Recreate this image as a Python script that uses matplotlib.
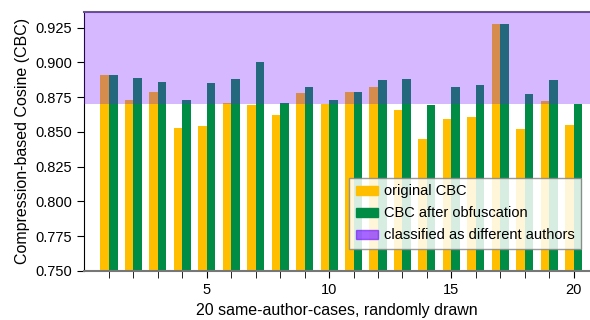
import numpy as np
import matplotlib
matplotlib.use("Agg")
import matplotlib.pyplot as plt
from matplotlib.patches import Patch

plt.rcParams['font.family'] = ['Liberation Sans', 'DejaVu Sans']

# valeurs
cases = np.arange(1, 21)
original_cbc = [0.891, 0.873, 0.879, 0.853, 0.854, 0.871, 0.869, 0.862, 0.878, 0.870,
                0.879, 0.882, 0.866, 0.845, 0.859, 0.861, 0.928, 0.852, 0.872, 0.855]
obfuscated_cbc = [0.891, 0.889, 0.886, 0.873, 0.885, 0.888, 0.900, 0.871, 0.882, 0.873,
                  0.879, 0.887, 0.888, 0.869, 0.882, 0.884, 0.928, 0.877, 0.887, 0.870]
threshold = 0.870

orange = '#FFBF00'
green = '#008C45'
purple = (117/255, 22/255, 1.0)

fig = plt.figure(figsize=(5.9, 3.2), dpi=100)
ax = fig.add_axes([0.1424, 0.154, 0.8576, 0.8094])

w = 0.35
ax.bar(cases - w, original_cbc, width=w, align='edge', color=orange, zorder=2)
ax.bar(cases, obfuscated_cbc, width=w, align='edge', color=green, zorder=2)

ax.set_ylim(0.75, 0.9365)
ax.set_xlim(-0.02, 20.67)
# zone "auteurs différents" au-dessus du seuil
ax.axhspan(threshold, 0.9365, color=purple, alpha=0.3, lw=0, zorder=3)

ax.set_yticks(np.arange(0.75, 0.926, 0.025))
ax.set_yticklabels(['%.3f' % t for t in np.arange(0.75, 0.926, 0.025)])
ax.set_xticks([5, 10, 15, 20])
ax.set_xticks(cases, minor=True)
ax.tick_params(axis='both', direction='out', length=5, labelsize=10.5, color='black')
ax.tick_params(axis='x', which='minor', length=5)

ax.spines['right'].set_visible(False)
ax.spines['bottom'].set_color('#777777')
ax.spines['bottom'].set_linewidth(1.5)
ax.spines['top'].set_color('#6a5a80')
ax.spines['top'].set_linewidth(1.5)
ax.spines['left'].set_color('black')

ax.set_ylabel('Compression-based Cosine (CBC)', fontsize=11.5)
ax.set_xlabel('20 same-author-cases, randomly drawn', fontsize=11.5, labelpad=5)

handles = [Patch(color=orange, label='original CBC'),
           Patch(color=green, label='CBC after obfuscation'),
           Patch(color=purple, alpha=0.65, label='classified as different authors')]
leg = ax.legend(handles=handles, loc='lower right', bbox_to_anchor=(0.982, 0.084),
                borderaxespad=0, fontsize=10.5, framealpha=0.85, fancybox=False,
                edgecolor='#888888', handlelength=1.5, handleheight=0.6,
                borderpad=0.45, labelspacing=0.55, handletextpad=0.4)
leg.set_zorder(5)

fig.savefig('out.png', dpi=100)
